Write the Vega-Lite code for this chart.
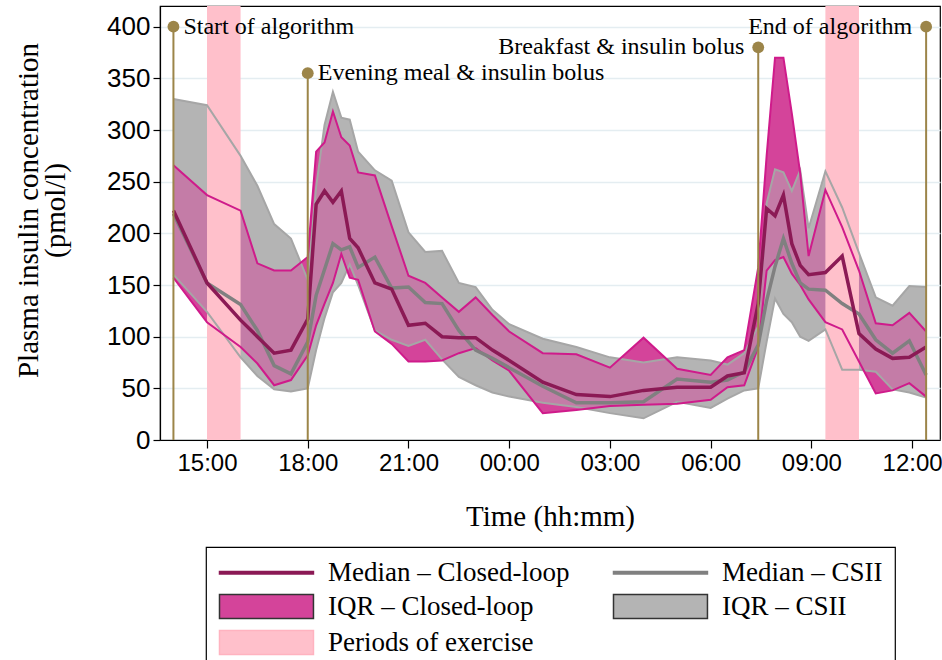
{
  "$schema": "https://vega.github.io/schema/vega-lite/v6.json",
  "autosize": "none",
  "width": 780,
  "height": 434,
  "padding": {"left": 160, "top": 6, "right": 2, "bottom": 220},
  "background": "white",
  "config": {
    "view": {"stroke": "#000", "strokeWidth": 1.2},
    "axis": {
      "domainColor": "#000", "domainWidth": 1.2,
      "tickColor": "#000", "tickWidth": 1.2,
      "labelFont": "Liberation Sans", "labelColor": "#000",
      "titleFont": "Liberation Serif", "titleFontSize": 29, "titleFontWeight": "normal", "titleColor": "#000"
    },
    "axisX": {"tickSize": 8, "labelPadding": 3, "labelFontSize": 24, "titlePadding": 27, "grid": false},
    "axisY": {"tickSize": 7, "labelPadding": 3, "labelFontSize": 26, "titlePadding": 36, "titleLineHeight": 27, "titleY": 204, "grid": true, "gridColor": "#e4edf1", "gridWidth": 1.5},
    "legend": {
      "orient": "none", "legendX": 46, "legendY": 541,
      "columns": 2, "strokeColor": "#000", "strokeWidth": 1.2, "padding": 12,
      "labelFont": "Liberation Serif", "labelFontSize": 27, "labelColor": "#000",
      "symbolSize": 576, "symbolStrokeWidth": 1.5, "labelOffset": 83, "rowPadding": 5, "columnPadding": 40,
      "labelLimit": 400
    }
  },
  "datasets": {
    "insulin": [
      {"t": 14, "cl_med": 222, "cl_lo": 157, "cl_hi": 266, "cs_med": 219, "cs_lo": 160, "cs_hi": 330},
      {"t": 15, "cl_med": 152, "cl_lo": 114, "cl_hi": 237, "cs_med": 152, "cs_lo": 124, "cs_hi": 324},
      {"t": 16, "cl_med": 116, "cl_lo": 90, "cl_hi": 222, "cs_med": 131, "cs_lo": 80, "cs_hi": 275},
      {"t": 16.5, "cl_med": 100, "cl_lo": 74, "cl_hi": 171, "cs_med": 106, "cs_lo": 62, "cs_hi": 246},
      {"t": 17, "cl_med": 84, "cl_lo": 53, "cl_hi": 164, "cs_med": 72, "cs_lo": 49, "cs_hi": 209},
      {"t": 17.5, "cl_med": 87, "cl_lo": 58, "cl_hi": 164, "cs_med": 64, "cs_lo": 47, "cs_hi": 195},
      {"t": 18, "cl_med": 117, "cl_lo": 82, "cl_hi": 177, "cs_med": 95, "cs_lo": 50, "cs_hi": 155},
      {"t": 18.25, "cl_med": 228, "cl_lo": 111, "cl_hi": 279, "cs_med": 140, "cs_lo": 87, "cs_hi": 245},
      {"t": 18.5, "cl_med": 241, "cl_lo": 132, "cl_hi": 288, "cs_med": 165, "cs_lo": 118, "cs_hi": 305},
      {"t": 18.75, "cl_med": 230, "cl_lo": 152, "cl_hi": 318, "cs_med": 190, "cs_lo": 143, "cs_hi": 337},
      {"t": 19, "cl_med": 241, "cl_lo": 180, "cl_hi": 293, "cs_med": 184, "cs_lo": 152, "cs_hi": 312},
      {"t": 19.25, "cl_med": 195, "cl_lo": 157, "cl_hi": 285, "cs_med": 187, "cs_lo": 170, "cs_hi": 310},
      {"t": 19.5, "cl_med": 186, "cl_lo": 155, "cl_hi": 259, "cs_med": 167, "cs_lo": 150, "cs_hi": 279},
      {"t": 20, "cl_med": 152, "cl_lo": 105, "cl_hi": 256, "cs_med": 177, "cs_lo": 106, "cs_hi": 261},
      {"t": 20.5, "cl_med": 146, "cl_lo": 93, "cl_hi": 207, "cs_med": 147, "cs_lo": 97, "cs_hi": 251},
      {"t": 21, "cl_med": 111, "cl_lo": 76, "cl_hi": 159, "cs_med": 148, "cs_lo": 91, "cs_hi": 201},
      {"t": 21.5, "cl_med": 113, "cl_lo": 76, "cl_hi": 152, "cs_med": 133, "cs_lo": 97, "cs_hi": 182},
      {"t": 22, "cl_med": 100, "cl_lo": 77, "cl_hi": 138, "cs_med": 132, "cs_lo": 78, "cs_hi": 183},
      {"t": 22.5, "cl_med": 99, "cl_lo": 84, "cl_hi": 124, "cs_med": 106, "cs_lo": 61, "cs_hi": 152},
      {"t": 23, "cl_med": 99, "cl_lo": 89, "cl_hi": 138, "cs_med": 87, "cs_lo": 53, "cs_hi": 148},
      {"t": 23.5, "cl_med": 87, "cl_lo": 77, "cl_hi": 121, "cs_med": 79, "cs_lo": 46, "cs_hi": 126},
      {"t": 24, "cl_med": 77, "cl_lo": 67, "cl_hi": 105, "cs_med": 70, "cs_lo": 42, "cs_hi": 112},
      {"t": 25, "cl_med": 56, "cl_lo": 26, "cl_hi": 84, "cs_med": 52, "cs_lo": 36, "cs_hi": 98},
      {"t": 26, "cl_med": 44, "cl_lo": 29, "cl_hi": 83, "cs_med": 36, "cs_lo": 32, "cs_hi": 90},
      {"t": 27, "cl_med": 42, "cl_lo": 33, "cl_hi": 70, "cs_med": 36, "cs_lo": 26, "cs_hi": 80},
      {"t": 28, "cl_med": 48, "cl_lo": 34, "cl_hi": 99, "cs_med": 37, "cs_lo": 21, "cs_hi": 75},
      {"t": 29, "cl_med": 51, "cl_lo": 35, "cl_hi": 69, "cs_med": 59, "cs_lo": 37, "cs_hi": 80},
      {"t": 30, "cl_med": 51, "cl_lo": 39, "cl_hi": 63, "cs_med": 56, "cs_lo": 31, "cs_hi": 77},
      {"t": 30.5, "cl_med": 62, "cl_lo": 51, "cl_hi": 80, "cs_med": 58, "cs_lo": 40, "cs_hi": 73},
      {"t": 31, "cl_med": 65, "cl_lo": 53, "cl_hi": 87, "cs_med": 66, "cs_lo": 48, "cs_hi": 84},
      {"t": 31.4167, "cl_med": 132, "cl_lo": 90, "cl_hi": 167, "cs_med": 92, "cs_lo": 50, "cs_hi": 110},
      {"t": 31.6667, "cl_med": 224, "cl_lo": 164, "cl_hi": 275, "cs_med": 135, "cs_lo": 95, "cs_hi": 229},
      {"t": 31.9167, "cl_med": 217, "cl_lo": 174, "cl_hi": 370, "cs_med": 168, "cs_lo": 137, "cs_hi": 262},
      {"t": 32.1667, "cl_med": 237, "cl_lo": 177, "cl_hi": 370, "cs_med": 195, "cs_lo": 122, "cs_hi": 259},
      {"t": 32.4167, "cl_med": 190, "cl_lo": 161, "cl_hi": 316, "cs_med": 171, "cs_lo": 114, "cs_hi": 241},
      {"t": 32.6667, "cl_med": 169, "cl_lo": 150, "cl_hi": 258, "cs_med": 152, "cs_lo": 100, "cs_hi": 261},
      {"t": 32.9167, "cl_med": 160, "cl_lo": 136, "cl_hi": 178, "cs_med": 146, "cs_lo": 96, "cs_hi": 205},
      {"t": 33.4167, "cl_med": 162, "cl_lo": 114, "cl_hi": 242, "cs_med": 145, "cs_lo": 107, "cs_hi": 260},
      {"t": 33.9167, "cl_med": 178, "cl_lo": 107, "cl_hi": 206, "cs_med": 132, "cs_lo": 68, "cs_hi": 225},
      {"t": 34.4167, "cl_med": 103, "cl_lo": 76, "cl_hi": 164, "cs_med": 122, "cs_lo": 68, "cs_hi": 181},
      {"t": 34.9167, "cl_med": 88, "cl_lo": 45, "cl_hi": 113, "cs_med": 97, "cs_lo": 66, "cs_hi": 138},
      {"t": 35.4167, "cl_med": 79, "cl_lo": 48, "cl_hi": 111, "cs_med": 84, "cs_lo": 49, "cs_hi": 130},
      {"t": 35.9167, "cl_med": 80, "cl_lo": 55, "cl_hi": 123, "cs_med": 96, "cs_lo": 46, "cs_hi": 149},
      {"t": 36.4167, "cl_med": 90, "cl_lo": 42, "cl_hi": 105, "cs_med": 63, "cs_lo": 41, "cs_hi": 148}
    ],
    "exercise": [
      {"start": 15, "end": 16, "kind": "Periods of exercise"},
      {"start": 33.4167, "end": 34.4167, "kind": "Periods of exercise"}
    ],
    "events": [
      {"t": 14, "top": 400, "label": "Start of algorithm", "side": "right"},
      {"t": 18, "top": 355, "label": "Evening meal & insulin bolus", "side": "right"},
      {"t": 31.4167, "top": 380, "label": "Breakfast & insulin bolus", "side": "left"},
      {"t": 36.4167, "top": 400, "label": "End of algorithm", "side": "left"}
    ]
  },
  "layer": [
    {
      "data": {"name": "insulin"},
      "mark": {"type": "area", "color": "#b4b4b4", "opacity": 1},
      "encoding": {
        "x": {
          "field": "t", "type": "quantitative",
          "scale": {"domain": [13.6, 36.83], "nice": false, "zero": false},
          "axis": {
            "values": [15, 18, 21, 24, 27, 30, 33, 36],
            "labelExpr": "(datum.value % 24 < 10 ? '0' : '') + (datum.value % 24) + ':00'",
            "title": "Time (hh:mm)"
          }
        },
        "y": {
          "field": "cs_lo", "type": "quantitative",
          "scale": {"domain": [0, 420], "nice": false},
          "axis": {
            "values": [0, 50, 100, 150, 200, 250, 300, 350, 400],
            "title": ["Plasma insulin concentration", "(pmol/l)"]
          }
        },
        "y2": {"field": "cs_hi"}
      }
    },
    {
      "data": {"name": "insulin"},
      "mark": {"type": "area", "color": "#d4449a", "opacity": 1},
      "encoding": {
        "x": {"field": "t", "type": "quantitative"},
        "y": {"field": "cl_lo", "type": "quantitative"},
        "y2": {"field": "cl_hi"}
      }
    },
    {
      "data": {"name": "insulin"},
      "mark": {"type": "area", "color": "#b4b4b4", "opacity": 0.5},
      "encoding": {
        "x": {"field": "t", "type": "quantitative"},
        "y": {"field": "cs_lo", "type": "quantitative"},
        "y2": {"field": "cs_hi"}
      }
    },
    {
      "data": {"name": "exercise"},
      "mark": {"type": "rect", "opacity": 1},
      "encoding": {
        "x": {"field": "start", "type": "quantitative"},
        "x2": {"field": "end"},
        "color": {
          "field": "kind", "type": "nominal",
          "scale": {
            "domain": ["Median – Closed-loop", "IQR – Closed-loop", "Periods of exercise", "Median – CSII", "IQR – CSII"],
            "range": ["#8b1a55", "#d4449a", "#ffc0cb", "#808080", "#b4b4b4"]
          },
          "legend": {
            "title": null,
            "labelExpr": "datum.label === 'Median – CSII' ? datum.label + '       ' : datum.label",
            "symbolType": {"expr": "indexof(datum.value, 'Median') === 0 ? 'M-1,-0.1H6.83V0.1H-1Z' : 'M-1,-1H6.83V1H-1Z'"},
            "symbolStrokeColor": {"expr": "datum.value === 'Median – Closed-loop' ? '#8b1a55' : datum.value === 'Median – CSII' ? '#808080' : datum.value === 'Periods of exercise' ? '#ffb3c0' : '#333333'"},
            "symbolOpacity": 1
          }
        }
      }
    },
    {
      "data": {"name": "insulin"},
      "mark": {"type": "line", "color": "#a6a6a6", "strokeWidth": 2},
      "encoding": {"x": {"field": "t", "type": "quantitative"}, "y": {"field": "cs_lo", "type": "quantitative"}}
    },
    {
      "data": {"name": "insulin"},
      "mark": {"type": "line", "color": "#a6a6a6", "strokeWidth": 2},
      "encoding": {"x": {"field": "t", "type": "quantitative"}, "y": {"field": "cs_hi", "type": "quantitative"}}
    },
    {
      "data": {"name": "insulin"},
      "mark": {"type": "line", "color": "#cf1b8b", "strokeWidth": 2},
      "encoding": {"x": {"field": "t", "type": "quantitative"}, "y": {"field": "cl_lo", "type": "quantitative"}}
    },
    {
      "data": {"name": "insulin"},
      "mark": {"type": "line", "color": "#cf1b8b", "strokeWidth": 2},
      "encoding": {"x": {"field": "t", "type": "quantitative"}, "y": {"field": "cl_hi", "type": "quantitative"}}
    },
    {
      "data": {"name": "insulin"},
      "mark": {"type": "line", "color": "#808080", "strokeWidth": 3.5},
      "encoding": {"x": {"field": "t", "type": "quantitative"}, "y": {"field": "cs_med", "type": "quantitative"}}
    },
    {
      "data": {"name": "insulin"},
      "mark": {"type": "line", "color": "#8b1a55", "strokeWidth": 3.5},
      "encoding": {"x": {"field": "t", "type": "quantitative"}, "y": {"field": "cl_med", "type": "quantitative"}}
    },
    {
      "data": {"name": "events"},
      "mark": {"type": "rule", "color": "#9c8549", "strokeWidth": 2},
      "encoding": {
        "x": {"field": "t", "type": "quantitative"},
        "y": {"field": "top", "type": "quantitative"},
        "y2": {"datum": 0}
      }
    },
    {
      "data": {"name": "events"},
      "mark": {"type": "point", "filled": true, "color": "#9c8549", "opacity": 1, "size": 140},
      "encoding": {
        "x": {"field": "t", "type": "quantitative"},
        "y": {"field": "top", "type": "quantitative"}
      }
    },
    {
      "data": {"name": "events"},
      "transform": [{"filter": "datum.side === 'right'"}],
      "mark": {"type": "text", "align": "left", "baseline": "middle", "dx": 10, "font": "Liberation Serif", "fontSize": 24, "color": "#000"},
      "encoding": {
        "x": {"field": "t", "type": "quantitative"},
        "y": {"field": "top", "type": "quantitative"},
        "text": {"field": "label"}
      }
    },
    {
      "data": {"name": "events"},
      "transform": [{"filter": "datum.side === 'left'"}],
      "mark": {"type": "text", "align": "right", "baseline": "middle", "dx": -14, "font": "Liberation Serif", "fontSize": 24, "color": "#000"},
      "encoding": {
        "x": {"field": "t", "type": "quantitative"},
        "y": {"field": "top", "type": "quantitative"},
        "text": {"field": "label"}
      }
    }
  ]
}
